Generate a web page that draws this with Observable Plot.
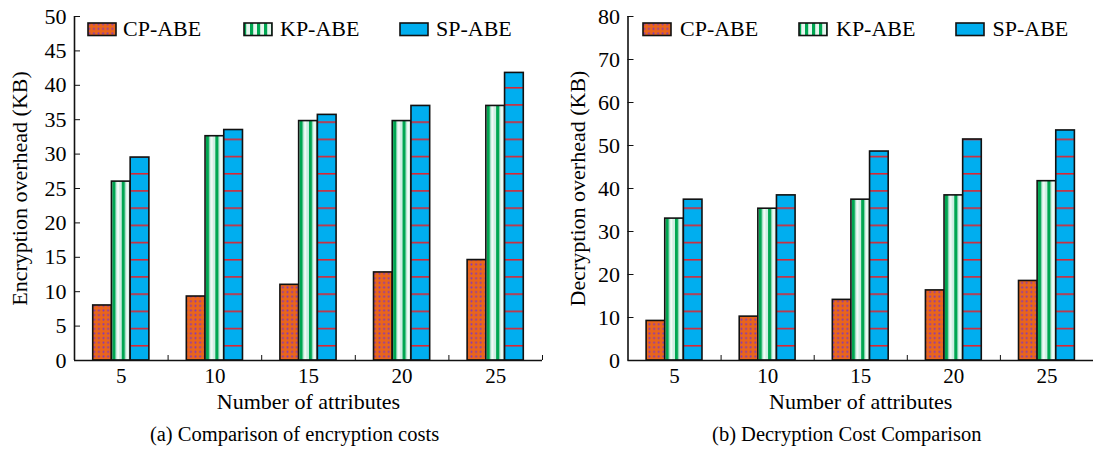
<!DOCTYPE html>
<html>
<head>
<meta charset="utf-8">
<script src="https://cdn.jsdelivr.net/npm/d3@7"></script>
<script src="https://cdn.jsdelivr.net/npm/@observablehq/plot@0.6"></script>
<style>
  html, body { margin: 0; padding: 0; background: white; }
  #wrap { position: relative; width: 1093px; height: 450px; overflow: hidden; font-family: "Liberation Serif", "Times New Roman", serif; }
  .panel { position: absolute; top: 0; }
  .lg-sw { position: absolute; }
  .lg-tx { position: absolute; font-size: 22px; line-height: 22px; color: #000; white-space: nowrap; }
</style>
</head>
<body>
<svg width="0" height="0" style="position:absolute">
  <defs>
    <pattern id="cpPat" patternUnits="userSpaceOnUse" width="4.6" height="4.6">
      <rect width="4.6" height="4.6" fill="#ea651a"></rect>
      <circle cx="2.3" cy="2.3" r="1.05" fill="#8a3cb0"></circle>
    </pattern>
    <pattern id="kpPat" patternUnits="objectBoundingBox" patternContentUnits="objectBoundingBox" width="0.5" height="1">
      <rect width="0.5" height="1" fill="#cdeee2"></rect>
      <rect x="0.05" width="0.17" height="1" fill="#00a651"></rect>
      <rect x="0.31" width="0.1" height="1" fill="#f4fbf8"></rect>
    </pattern>
    <pattern id="kpLegPat" patternUnits="userSpaceOnUse" width="7" height="13">
      <rect width="7" height="13" fill="#e8f7f0"></rect>
      <rect x="0" width="3.2" height="13" fill="#00a651"></rect>
    </pattern>
    <pattern id="spPat" patternUnits="userSpaceOnUse" width="4000" height="17.2" y="0">
      <rect width="4000" height="17.2" fill="#00aeef"></rect>
      <rect y="1.0" width="4000" height="1.5" fill="#ec1c24"></rect>
    </pattern>
  </defs>
</svg>
<div id="wrap"></div>
<script>
// ---------- data ----------
const attributes = [5, 10, 15, 20, 25];
const seriesNames = ["CP-ABE", "KP-ABE", "SP-ABE"];

const encCP = [8.0, 9.3, 11.0, 12.8, 14.6];
const encKP = [26.0, 32.6, 34.8, 34.8, 37.0];
const encSP = [29.5, 33.5, 35.7, 37.0, 41.8];

const decCP = [9.2, 10.2, 14.1, 16.3, 18.5];
const decKP = [33.0, 35.3, 37.4, 38.4, 41.7];
const decSP = [37.4, 38.4, 48.6, 51.4, 53.5];

const encTicks = [0, 5, 10, 15, 20, 25, 30, 35, 40, 45, 50];
const decTicks = [0, 10, 20, 30, 40, 50, 60, 70, 80];

const xLabel = "Number of attributes";
const encYLabel = "Encryption overhead (KB)";
const decYLabel = "Decryption overhead (KB)";
const encCaption = "(a) Comparison of encryption costs";
const decCaption = "(b) Decryption Cost Comparison";

const seriesFills = ["url(#cpPat)", "url(#kpPat)", "url(#spPat)"];
const legendFills = ["url(#cpPat)", "url(#kpLegPat)", "#00aeef"];

// ---------- chart builder ----------
const FONT = "'Liberation Serif', 'Times New Roman', serif";

function makeChart({values, ticks, yLabel, caption, width, marginLeft, marginRight, yLabelDx, captionDx}) {
  const rows = attributes.flatMap((a, i) =>
    seriesNames.map((s, j) => ({attr: a, series: s, j, value: values[j][i]})));
  const step = attributes[1] - attributes[0];
  const barW = step / 5; // bar width in attribute units
  const boundaries = attributes.slice(1).map(a => a - step / 2).concat([attributes[attributes.length - 1] + step / 2]);
  return Plot.plot({
    width, height: 450,
    marginLeft, marginRight, marginTop: 16, marginBottom: 90,
    style: {fontFamily: FONT, fontSize: "21px", color: "#000", background: "transparent", overflow: "visible"},
    x: {type: "linear", domain: [attributes[0] - step / 2, attributes[attributes.length - 1] + step / 2], axis: null},
    y: {domain: [ticks[0], ticks[ticks.length - 1]], axis: null},
    color: {type: "ordinal", domain: seriesNames, range: seriesFills},
    marks: [
      Plot.rectY(rows, {
        x1: d => d.attr + (d.j - 1.5) * barW,
        x2: d => d.attr + (d.j - 0.5) * barW,
        y1: 0, y2: "value",
        fill: "series", stroke: "#111", strokeWidth: 1.6
      }),
      Plot.ruleY([ticks[0]], {stroke: "#111", strokeWidth: 1.6}),
      Plot.ruleX([attributes[0] - step / 2], {stroke: "#111", strokeWidth: 1.6}),
      Plot.axisY({ticks, tickSize: -6, tickFormat: () => "", label: null, stroke: "#111"}),
      Plot.axisY({ticks, tickSize: 0, tickPadding: 8, label: null, fontSize: 22}),
      Plot.axisX({ticks: boundaries, tickSize: -5, tickFormat: () => "", label: null, stroke: "#111"}),
      Plot.axisX({ticks: attributes, tickSize: 0, tickPadding: 8, tickFormat: d => String(d), label: null, fontSize: 21}),
      Plot.text([yLabel], {frameAnchor: "left", textAnchor: "middle", rotate: -90, dx: yLabelDx, fontSize: 22}),
      Plot.text([xLabel], {frameAnchor: "bottom", dy: 48, fontSize: 22}),
      Plot.text([caption], {frameAnchor: "bottom", dy: 80, dx: captionDx, fontSize: 20.5})
    ]
  });
}

const wrap = document.getElementById("wrap");

function addPanel(svg, left) {
  const d = document.createElement("div");
  d.className = "panel";
  d.style.left = left + "px";
  d.appendChild(svg);
  wrap.appendChild(d);
}

addPanel(makeChart({values: [encCP, encKP, encSP], ticks: encTicks, yLabel: encYLabel, caption: encCaption,
  width: 546, marginLeft: 74, marginRight: 4, yLabelDx: -55, captionDx: -14}), 0);
addPanel(makeChart({values: [decCP, decKP, decSP], ticks: decTicks, yLabel: decYLabel, caption: decCaption,
  width: 547, marginLeft: 81.5, marginRight: 0, yLabelDx: -50, captionDx: -14}), 546);

// ---------- legends ----------
function addLegend(items) {
  items.forEach((it, i) => {
    const sw = document.createElementNS("http://www.w3.org/2000/svg", "svg");
    sw.setAttribute("class", "lg-sw");
    sw.setAttribute("width", 30);
    sw.setAttribute("height", 15);
    sw.style.left = (it.sx - 0.5) + "px";
    sw.style.top = "22px";
    const r = document.createElementNS("http://www.w3.org/2000/svg", "rect");
    r.setAttribute("x", 1); r.setAttribute("y", 1);
    r.setAttribute("width", 28); r.setAttribute("height", 12.5);
    r.setAttribute("fill", legendFills[i]);
    r.setAttribute("stroke", "#111"); r.setAttribute("stroke-width", 1.6);
    sw.appendChild(r);
    wrap.appendChild(sw);
    const t = document.createElement("div");
    t.className = "lg-tx";
    t.textContent = seriesNames[i];
    t.style.left = it.tx + "px";
    t.style.top = "18px";
    wrap.appendChild(t);
  });
}
addLegend([{sx: 87, tx: 123}, {sx: 243, tx: 280}, {sx: 399, tx: 436}]);
addLegend([{sx: 642.5, tx: 680}, {sx: 798, tx: 836}, {sx: 955, tx: 992.5}]);
</script>
</body>
</html>
